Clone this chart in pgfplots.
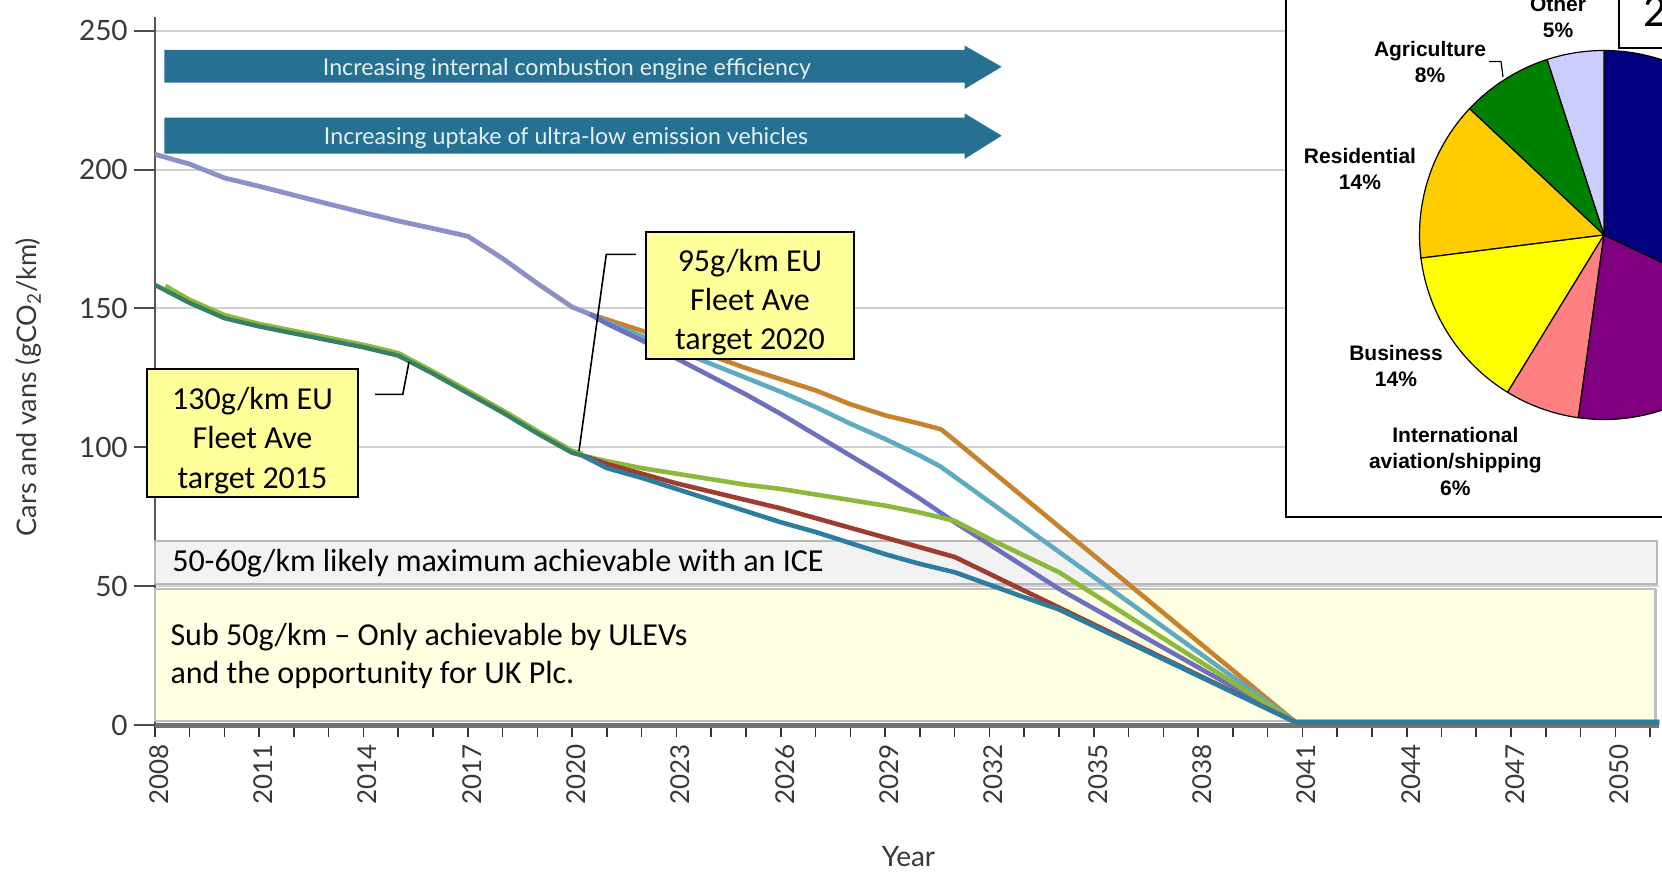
\documentclass[border=0pt]{standalone}
\usepackage{pgfplots}
\pgfplotsset{compat=1.18}
\usepackage{fontspec}
\setmainfont{Lato}
\newfontfamily\carlito{Carlito}
\newfontfamily\arial{Liberation Sans}
\definecolor{cLav}{RGB}{140,143,200}
\definecolor{cOrange}{RGB}{200,130,45}
\definecolor{cCyan}{RGB}{95,170,195}
\definecolor{cPurp}{RGB}{110,112,190}
\definecolor{cYG}{RGB}{140,185,60}
\definecolor{cRed}{RGB}{160,60,45}
\definecolor{cBT}{RGB}{45,125,160}
\definecolor{cLow}{RGB}{55,128,100}
\definecolor{cArrow}{RGB}{38,112,145}
\definecolor{cNote}{RGB}{255,255,153}
\definecolor{cSub}{RGB}{255,255,225}
\definecolor{pBlue}{RGB}{0,0,128}
\definecolor{pPurple}{RGB}{128,0,128}
\definecolor{pSalmon}{RGB}{255,128,128}
\definecolor{pYellow}{RGB}{255,255,0}
\definecolor{pOrange}{RGB}{255,204,0}
\definecolor{pGreen}{RGB}{0,128,0}
\definecolor{pLav}{RGB}{204,204,255}
\begin{document}
\begin{tikzpicture}
\path[use as bounding box] (0,0) rectangle (831pt,437.5pt);
\clip (0,0) rectangle (831pt,437.5pt);
\begin{axis}[
  at={(77.4pt,75pt)}, anchor=south west, scale only axis,
  width=752.1pt, height=354.07pt,
  xmin=2008, xmax=2051.25, ymin=0, ymax=255,
  axis x line*=bottom, axis y line*=left,
  x axis line style={draw=black!55, line width=2.5pt},
  y axis line style={draw=black!65, line width=1.2pt},
  xtick={2008,2011,...,2050},
  minor xtick={2008,...,2051},
  ytick={0,50,...,250},
  tick align=outside, major tick length=6pt, minor tick length=6pt,
  tick style={black!80, line width=0.8pt},
  ymajorgrids, major grid style={draw=black!18, line width=1pt},
  /pgf/number format/assume math mode=true,
  /pgf/number format/1000 sep={},
  xticklabel style={rotate=90, anchor=east, font=\fontsize{13}{13}\selectfont, text=black!78, yshift=-2pt},
  yticklabel style={font=\fontsize{14}{14}\selectfont, text=black!78, xshift=-4pt},
  clip mode=individual,
  line join=round,
]
\draw[fill=black!5, draw=black!28, line width=1pt] (axis cs:2008,50.8) rectangle (axis cs:2051.2,66.3);
\draw[fill=cSub, draw=black!25, line width=1.2pt] (axis cs:2008,1.4) rectangle (axis cs:2051.15,49);
\node[anchor=west, font=\carlito\fontsize{16}{19.6}\selectfont] at (axis cs:2008.3,58.4) {50-60g/km likely maximum achievable with an ICE};
\node[anchor=west, align=left, font=\carlito\fontsize{16}{19.3}\selectfont] at (axis cs:2008.25,24.8) {Sub 50g/km – Only achievable by ULEVs\\and the opportunity for UK Plc.};
% upper group
\addplot[cLav, line width=2.4pt, no marks] coordinates {(2008,205.5) (2009,202) (2010,197) (2011,194) (2012,190.8) (2013,187.6) (2014,184.5) (2015,181.5) (2016,178.8) (2017,176) (2018,168) (2019,159) (2020,150.5) (2020.5,148)};
\addplot[cOrange, line width=2.3pt, no marks] coordinates {(2020.5,148) (2021,146) (2022,142) (2023,137.5) (2024,133) (2025,128.5) (2026,124.5) (2027,120.5) (2028,115.5) (2029,111.5) (2030,108.5) (2030.6,106.5) (2031,102.5) (2040.8,1) (2051.25,1)};
\addplot[cCyan, line width=2.3pt, no marks] coordinates {(2020.5,148) (2021,145) (2022,140) (2023,135) (2024,130) (2025,125) (2026,120) (2027,114.5) (2028,108.5) (2029,103) (2030,97) (2030.6,93) (2040.8,1) (2051.25,1)};
\addplot[cPurp, line width=2.3pt, no marks] coordinates {(2020.5,148) (2021,144.5) (2022,138.5) (2023,132) (2024,125.5) (2025,119) (2026,112) (2027,104.5) (2028,97) (2029,89.5) (2030,81.5) (2031,73) (2032,65) (2033,57) (2034,49) (2040.8,1) (2051.25,1)};
% lower group
\addplot[cYG, line width=2.6pt, no marks] coordinates {(2008.3,158) (2009,153) (2010,147.5) (2011,144.3) (2012,141.8) (2013,139.3) (2014,136.8) (2015,133.8) (2016,127.2) (2017,120.2) (2018,113.2) (2019,105.7) (2020,98.6) (2020.3,97.5)};
\addplot[cLow, line width=2.2pt, no marks] coordinates {(2008,158.5) (2009,152) (2010,146.5) (2011,143.5) (2012,141) (2013,138.5) (2014,136) (2015,133) (2016,126.5) (2017,119.5) (2018,112.5) (2019,105) (2020,98) (2020.3,97)};
\addplot[cYG, line width=2.3pt, no marks] coordinates {(2020.3,97) (2021,95) (2022,92.5) (2023,90.5) (2024,88.5) (2025,86.5) (2026,85) (2027,83) (2028,81) (2029,79) (2030,76.5) (2031,73.5) (2032,67) (2033,61) (2034,55) (2040.8,1) (2051.25,1)};
\addplot[cRed, line width=2.3pt, no marks] coordinates {(2020.3,97) (2021,94) (2022,90.5) (2023,87) (2024,84) (2025,81) (2026,78) (2027,74.5) (2028,71) (2029,67.5) (2030,64) (2031,60.5) (2040.8,1) (2051.25,1)};
\addplot[cBT, line width=2.3pt, no marks] coordinates {(2020.3,97) (2021,92.5) (2022,89) (2023,85) (2024,81) (2025,77) (2026,73) (2027,69.5) (2028,65.5) (2029,61.5) (2030,58) (2031,55) (2032,50.5) (2033,46) (2034,41.6) (2040.8,1) (2051.25,1)};
\end{axis}
% pixel-coordinate overlay (1 px = 0.5pt, y downward)
\begin{scope}[x=0.5pt, y=-0.5pt, yshift=437.5pt]
  % long y ticks
  \foreach \v in {0,50,...,250} \draw[black!70, line width=1pt] (133.8,{725-\v*2.777}) -- (154.8,{725-\v*2.777});
  % arrows
  \fill[cArrow] (164.3,49.8) -- (964.6,49.8) -- (964.6,45.6) -- (1001.7,66.8) -- (964.6,89) -- (964.6,82.7) -- (164.3,82.7) -- cycle;
  \fill[cArrow] (164.3,117.7) -- (964.6,117.7) -- (964.6,113.4) -- (1001.7,135.7) -- (964.6,159) -- (964.6,153.7) -- (164.3,153.7) -- cycle;
  \node[text={rgb,255:red,228;green,240;blue,246}] at (567,69.5) {\resizebox{244pt}{!}{Increasing internal combustion engine efficiency}};
  \node[text={rgb,255:red,228;green,240;blue,246}] at (566,138.5) {\resizebox{242pt}{!}{Increasing uptake of ultra-low emission vehicles}};
  % axis titles
  \node[rotate=90, font=\fontsize{13.5}{13.5}\selectfont, text=black!78] at (28.6,387) {Cars and vans (gCO\textsubscript{2}/km)};
  \node[font=\fontsize{14}{14}\selectfont, text=black!78] at (908.5,856.5) {Year};
  % callouts
  \draw[black, line width=0.8pt] (375.2,394.3) -- (402.8,394.3) -- (409,362);
  \draw[fill=cNote, line width=1pt] (147,369) rectangle (358,497);
  \node[align=center, font=\carlito\fontsize{16}{19.6}\selectfont] at (252.5,440.5) {130g/km EU\\Fleet Ave\\target 2015};
  \draw[black, line width=0.8pt] (636,254.4) -- (606.3,254.4) -- (579,451);
  \draw[fill=cNote, line width=1pt] (646,232) rectangle (854,359);
  \node[align=center, font=\carlito\fontsize{16}{19.6}\selectfont] at (750,302) {95g/km EU\\Fleet Ave\\target 2020};
  % pie box
  \draw[fill=white, line width=1.1pt] (1286,-10) rectangle (1720,517.3);
  \draw[fill=white, line width=1.1pt] (1619,-10) rectangle (1720,47.7);
  \node[anchor=base west, font=\carlito\fontsize{23}{23}\selectfont] at (1636,26.5) {2};
  % pie labels
  \begin{scope}[font=\arial\bfseries\fontsize{10.5}{13.25}\selectfont]
    \node[align=center] at (1558,17) {Other\\5\%};
    \node[align=center] at (1430,62) {Agriculture\\8\%};
    \node[align=center] at (1360,169) {Residential\\14\%};
    \node[align=center] at (1396,366) {Business\\14\%};
    \node[align=center] at (1455.4,461) {International\\aviation/shipping\\6\%};
  \end{scope}
  \draw[line width=0.6pt] (1489,61.5) -- (1501,61.5) -- (1503,77);
\end{scope}
% pie (normal orientation, pt units)
\begin{scope}[shift={(802pt,320pt)}, line width=0.6pt]
  \def\r{92.25pt}
  \filldraw[fill=pBlue]   (0,0) -- (-25.5:\r) arc[start angle=-25.5, end angle=90, radius=\r] -- cycle;
  \filldraw[fill=pLav]    (0,0) -- (90:\r) arc[start angle=90, end angle=108, radius=\r] -- cycle;
  \filldraw[fill=pGreen]  (0,0) -- (108:\r) arc[start angle=108, end angle=136.8, radius=\r] -- cycle;
  \filldraw[fill=pOrange] (0,0) -- (136.8:\r) arc[start angle=136.8, end angle=187.2, radius=\r] -- cycle;
  \filldraw[fill=pYellow] (0,0) -- (187.2:\r) arc[start angle=187.2, end angle=238.5, radius=\r] -- cycle;
  \filldraw[fill=pSalmon] (0,0) -- (238.5:\r) arc[start angle=238.5, end angle=262, radius=\r] -- cycle;
  \filldraw[fill=pPurple] (0,0) -- (262:\r) arc[start angle=262, end angle=334.5, radius=\r] -- cycle;
\end{scope}
\end{tikzpicture}
\end{document}
